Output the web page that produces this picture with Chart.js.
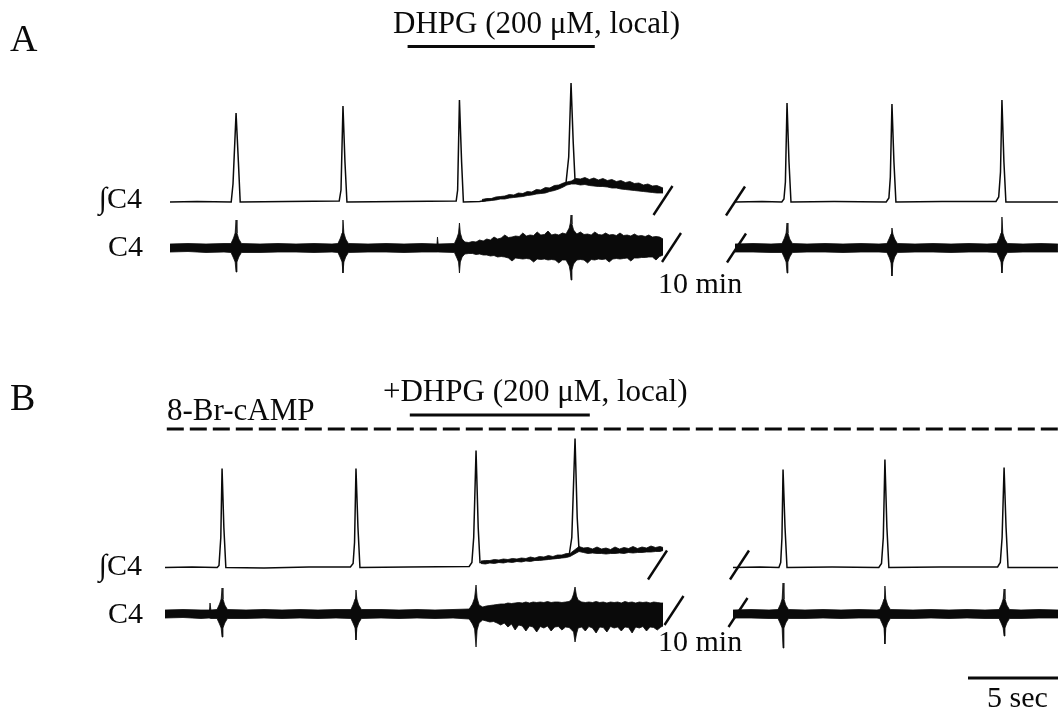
<!DOCTYPE html>
<html><head><meta charset="utf-8">
<script src="https://cdn.jsdelivr.net/npm/chart.js@4"></script>
<style>html,body{margin:0;padding:0;background:#fff}canvas{display:block}</style>
</head><body>
<canvas id="c" width="1058" height="711"></canvas>
<script>
// ---------------- DATA (time in s from start of each trace segment) ----------------
// Panel A: control, DHPG applied locally
// ∫C4 integrated trace: [t, amplitude a.u.]
const A_int_pre = [[0,0],[1.5,0.5],[3.4,0],[3.5,18],[3.67,89],[3.8,40],[3.9,0],[6.5,0.5],[9.4,1],[9.5,12],[9.61,96],[9.72,40],[9.83,0],[12.8,0.5],[15.9,1],[15.98,12],[16.08,102],[16.2,40],[16.3,0],[17.2,0.5],[18.33,4],[19.44,7],[20.56,11],[21.67,16],[22.0,19],[22.15,45],[22.28,119],[22.4,60],[22.5,22],[22.6,20],[23.89,18],[25.0,16],[26.11,14],[27.39,11]];
// ∫C4 noisy envelope during DHPG: [t, high, low]
const A_int_pre_noise = [[17.33,2.5,0.5],[17.6,3.5,1],[17.85,3.5,1.5],[18.1,5,2],[18.35,5.5,3],[18.6,6,3],[18.85,7.5,4],[19.1,7,4.5],[19.35,9,5],[19.6,8.5,5.5],[19.85,10.5,6.5],[20.1,10,7],[20.35,12.5,8],[20.6,12,8.5],[20.85,14.5,9],[21.1,14,10.5],[21.35,16.5,11.5],[21.6,17,13],[21.85,19,15],[22.05,20,17],[22.3,21,18],[22.55,23.5,18],[22.8,23,17],[23.05,24.5,17.5],[23.3,22.5,16.5],[23.55,24,16],[23.8,22,15.5],[24.05,23.5,15.5],[24.3,21.5,15],[24.55,22.5,14],[24.8,20.5,14],[25.05,21.5,13],[25.3,19.5,12.5],[25.55,20.5,12],[25.8,18.5,11.5],[26.05,19,11],[26.3,17,10.5],[26.55,18,10],[26.8,16,9.5],[27.05,16.5,9],[27.39,14,9]];
// C4 raw nerve activity envelope: [t, up, down]
const A_raw_pre = [[0,4,4],[1.0,4.5,3.5],[2.0,4,4.5],[3.0,4.5,4],[3.39,4.5,4.5],[3.53,10,10],[3.62,15,14],[3.67,28,24],[3.72,15,14],[3.82,9,9],[3.97,4.5,4.5],[5.0,4,4.5],[6.0,4.5,4],[7.0,4,4],[8.0,4.5,4.5],[9.0,4,4],[9.33,4.5,4.5],[9.47,10,10],[9.56,15,14],[9.61,28,25],[9.66,15,14],[9.76,9,9],[9.91,4.5,4.5],[11.0,4,4],[12.0,4.5,4],[13.0,4,4.5],[14.0,4.5,4],[14.83,4,4],[14.86,11,4],[14.9,4,4],[15.8,4.5,4.5],[15.94,10,10],[16.03,15,14],[16.08,25,25],[16.13,15,14],[16.23,9,9],[16.38,6,6],[16.6,5.5,5.5],[16.8,6.5,5.5],[17.0,6,6.5],[17.2,8,6],[17.4,7,7],[17.6,9,7],[17.8,8,8],[18.0,11,7.5],[18.2,9,9],[18.4,10,8.5],[18.6,13,9],[18.8,10.5,10],[19.0,11,13],[19.2,12,10],[19.4,11.5,10.5],[19.6,15,11],[19.8,12,10.5],[20.0,13,11],[20.2,12.5,14],[20.4,16,11],[20.6,13,11.5],[20.8,13.5,11],[21.0,17,12],[21.2,13,11.5],[21.4,14,12],[21.6,13,15],[21.8,15,12],[22.0,14,12],[22.18,20,18],[22.24,25,24],[22.28,33,32],[22.33,24,22],[22.42,18,16],[22.6,14,12],[22.8,16,11.5],[23.0,13.5,12],[23.2,14,15],[23.4,13,11.5],[23.6,16,12],[23.8,13.5,11],[24.0,13,11.5],[24.2,15,11],[24.4,13,14],[24.6,13.5,11],[24.8,12.5,10.5],[25.0,15,11],[25.2,12.5,10.5],[25.4,13,10],[25.6,12,13],[25.8,14,10],[26.0,12,10],[26.2,12.5,9.5],[26.4,11.5,9.5],[26.6,13,9],[26.8,11,9],[27.0,11.5,12],[27.2,11,8.5],[27.39,9,7]];
// 10 min later
const A_int_post = [[0,0],[1.5,0.5],[2.6,0],[2.72,3],[2.8,20],[2.89,99],[3.0,40],[3.11,0],[5.5,0.5],[8.4,0],[8.55,4],[8.63,25],[8.72,98],[8.83,40],[8.94,0],[11.5,0.5],[14.5,0.5],[14.65,5],[14.75,30],[14.83,102],[14.94,40],[15.05,0],[17.94,0]];
const A_raw_post = [[0,4,4],[1.0,4.5,4],[2.0,4,4.5],[2.61,4.5,4.5],[2.75,10,10],[2.84,15,14],[2.89,25,25],[2.94,15,14],[3.04,9,9],[3.19,4.5,4.5],[4.0,4,4],[5.0,4.5,4],[6.0,4,4.5],[7.0,4.5,4],[8.0,4,4],[8.44,4.5,4.5],[8.58,10,10],[8.67,14,15],[8.72,20,28],[8.77,14,15],[8.87,9,9],[9.02,4.5,4.5],[10,4,4],[11,4.5,4],[12,4,4.5],[13,4.5,4],[14,4,4],[14.55,4.5,4.5],[14.69,10,10],[14.78,15,14],[14.83,31,25],[14.88,15,14],[14.98,9,9],[15.13,4.5,4.5],[16,4,4],[17,4.5,4],[17.94,4,4]];

// Panel B: 8-Br-cAMP, then +DHPG
const B_int_pre = [[0,0],[1.5,0.5],[2.9,0],[3.0,2],[3.1,30],[3.17,99],[3.27,40],[3.38,0],[5.5,-0.5],[8.0,0.5],[10.3,0.5],[10.45,4],[10.53,25],[10.61,99],[10.72,40],[10.83,0],[13.5,0.5],[16.9,1],[17.05,5],[17.15,30],[17.28,117],[17.4,40],[17.5,5],[17.67,5],[18.61,6],[20.28,7.5],[21.94,10],[22.45,12],[22.6,30],[22.78,129],[22.9,50],[23.0,18],[24.17,16],[25.83,16],[27.67,18]];
const B_int_pre_noise = [[17.55,6.5,4],[17.8,7,3.5],[18.05,7,4.5],[18.3,8,4],[18.55,7.5,5],[18.8,8.5,4.5],[19.05,8,5.5],[19.3,9,5],[19.55,8.5,6],[19.8,9.5,5.5],[20.05,9,6.5],[20.3,10.5,6],[20.55,9.5,7],[20.8,11,7],[21.05,10.5,7.5],[21.3,12,8],[21.55,11,8.5],[21.8,12.5,9],[22.05,12.5,9.5],[22.3,14,10],[22.5,14,11],[23.0,21,16],[23.25,19.5,15],[23.5,20,14],[23.75,18.5,14.5],[24.0,20.5,14],[24.25,18.5,14],[24.5,19.5,13.5],[24.75,18,14],[25.0,20.5,14],[25.25,18.5,14.5],[25.5,20,14],[25.75,19,15],[26.0,21,14.5],[26.25,19,15],[26.5,20.5,15],[26.75,19.5,15.5],[27.0,21.5,15.5],[27.25,20,16],[27.5,21,16],[27.67,20,17]];
const B_raw_pre = [[0,4,4],[1,4.5,3.5],[2,4,4.5],[2.45,4,4],[2.5,11,4],[2.55,4,4.5],[2.89,4.5,4.5],[3.03,10,10],[3.12,15,14],[3.17,26,23],[3.22,15,14],[3.32,9,9],[3.47,4.5,4.5],[4.5,4,4.5],[5.5,4.5,4],[6.5,4,4.5],[7.5,4.5,4],[8.5,4,4.5],[9.5,4.5,4],[10.33,4.5,4.5],[10.47,10,10],[10.56,15,14],[10.61,24,26],[10.66,15,14],[10.76,9,9],[10.91,4.5,4.5],[12,4.5,4],[13,4,4.5],[14,4.5,4],[15,4,4.5],[16,4.5,4],[16.9,5,5],[17.08,10,10],[17.2,16,15],[17.28,29,33],[17.34,16,16],[17.45,9,9],[17.65,7,6],[17.85,8,7],[18.05,8.5,8],[18.25,9,7.5],[18.45,9.5,9],[18.65,10,11],[18.85,10,9],[19.05,11,13],[19.25,10.5,10],[19.45,11,16],[19.65,11.5,11],[19.85,11,12],[20.05,12,17],[20.25,11,12],[20.45,12,13],[20.65,11.5,18],[20.85,12,12.5],[21.05,11.5,14],[21.25,12.5,12],[21.45,11.5,17],[21.65,12,13],[21.85,12,12.5],[22.05,11.5,16],[22.25,12,13],[22.45,12.5,13.5],[22.6,15,16],[22.7,20,18],[22.78,27,28],[22.86,18,20],[22.95,14,14],[23.15,12,13],[23.35,11.5,17],[23.55,12,12.5],[23.75,11.5,14],[23.95,12.5,19],[24.15,11.5,13],[24.35,12,13.5],[24.55,11,18],[24.75,12,12.5],[24.95,11.5,14],[25.15,12,13],[25.35,11,17],[25.55,12.5,13],[25.75,11.5,13.5],[25.95,12,19],[26.15,11,13],[26.35,12,14],[26.55,11.5,12.5],[26.75,12,17],[26.95,11,13],[27.15,12,13.5],[27.35,11.5,16],[27.55,11,13],[27.67,11,12]];
const B_int_post = [[0,0],[1.5,0.5],[2.55,0],[2.65,5],[2.72,30],[2.78,98],[2.89,40],[3.0,0],[5.5,0.5],[8.1,0],[8.25,4],[8.35,30],[8.44,108],[8.55,40],[8.66,0],[11.5,0.5],[14.7,0.5],[14.85,5],[14.95,30],[15.06,100],[15.17,40],[15.28,0],[18.06,0]];
const B_raw_post = [[0,4,4],[1,4.5,4],[2,4,4.5],[2.5,4.5,4.5],[2.64,10,10],[2.73,15,14],[2.78,31,34],[2.83,15,14],[2.93,9,9],[3.08,4.5,4.5],[4,4,4.5],[5,4.5,4],[6,4,4.5],[7,4.5,4],[8,4,4],[8.16,4.5,4.5],[8.3,10,10],[8.39,15,14],[8.44,28,30],[8.49,15,14],[8.59,9,9],[8.74,4.5,4.5],[10,4,4.5],[11,4.5,4],[12,4,4.5],[13,4.5,4],[14,4,4.5],[14.78,4.5,4.5],[14.92,10,10],[15.01,15,14],[15.06,25,22],[15.11,15,14],[15.21,9,9],[15.36,4.5,4.5],[16,4,4.5],[17,4.5,4],[18.06,4,4]];

// Drug application periods (s, in the first segment of each panel)
const dhpgA = [13.2, 23.6];
const dhpgB = [13.6, 23.6];
const campB = [0.1, 18.06];   // from start of B (segment 1) to end of B (segment 2)
const scaleBarSec = 5;
const labels = { A:'A', B:'B', dhpg:'DHPG (200 μM, local)', dhpgB:'+DHPG (200 μM, local)', camp:'8-Br-cAMP', integ:'∫C4', raw:'C4', gap:'10 min', scale:'5 sec' };

// ---------------- LAYOUT ----------------
const W = 1058, H = 711, PXS = 18; // 18 px per second
const L = {
  A: { intBase:202, rawBase:248, pre:170, post:735, barY:46.5 },
  B: { intBase:567.5, rawBase:614, pre:165, post:733, barY:415, dashY:429 },
  scaleY: 678
};
const sx = px => px / PXS;

const BLACK = '#0a0a0a';
const datasets = [];
function line(pts, segPx, base, width) {
  datasets.push({ data: pts.map(([t,a]) => ({x: sx(segPx) + t, y: base - a})), borderColor: BLACK, borderWidth: width || 1.5, fill: false, pointRadius: 0, tension: 0, clip: false });
}
function band(pts, segPx, base, rawStyle) {
  const up = pts.map(([t,h,l]) => ({x: sx(segPx) + t, y: base - h}));
  const lo = pts.map(([t,h,l]) => ({x: sx(segPx) + t, y: rawStyle ? base + l : base - l}));
  datasets.push({ data: up, borderColor: BLACK, borderWidth: 0.8, fill: false, pointRadius: 0, tension: 0, clip: false });
  datasets.push({ data: lo, borderColor: BLACK, borderWidth: 0.8, backgroundColor: BLACK, fill: '-1', pointRadius: 0, tension: 0, clip: false });
}
function seg(x0, y0, x1, y1, width, dash) {
  datasets.push({ data: [{x:x0,y:y0},{x:x1,y:y1}], borderColor: BLACK, borderWidth: width, borderDash: dash || [], fill: false, pointRadius: 0, tension: 0, clip: false, borderCapStyle: 'butt' });
}

// traces
line(A_int_pre, L.A.pre, L.A.intBase);
band(A_int_pre_noise, L.A.pre, L.A.intBase, false);
band(A_raw_pre, L.A.pre, L.A.rawBase, true);
line(A_int_post, L.A.post, L.A.intBase);
band(A_raw_post, L.A.post, L.A.rawBase, true);
line(B_int_pre, L.B.pre, L.B.intBase);
band(B_int_pre_noise, L.B.pre, L.B.intBase, false);
band(B_raw_pre, L.B.pre, L.B.rawBase, true);
line(B_int_post, L.B.post, L.B.intBase);
band(B_raw_post, L.B.post, L.B.rawBase, true);

// drug bars
seg(sx(L.A.pre) + dhpgA[0], L.A.barY, sx(L.A.pre) + dhpgA[1], L.A.barY, 3);
seg(sx(L.B.pre) + dhpgB[0], L.B.barY, sx(L.B.pre) + dhpgB[1], L.B.barY, 3);
seg(sx(L.B.pre) + campB[0], L.B.dashY, sx(L.B.post) + campB[1], L.B.dashY, 3, [17, 6]);
// scale bar
seg(sx(W) - scaleBarSec, L.scaleY, sx(W), L.scaleY, 3);

// break markers (centre px)
const breaks = [[663,200.5],[735.5,201],[671.5,247.5],[736.5,248],[657.5,565],[739.5,565],[674,610.5],[738,612.5]];
breaks.forEach(([cx, cy]) => seg(sx(cx - 9.5), cy + 14.5, sx(cx + 9.5), cy - 14.5, 2.4));

const texts = [
  { t: labels.A, x: 10, y: 51, s: 38 },
  { t: labels.dhpg, x: 393, y: 33, s: 31 },
  { t: labels.integ, x: 142, y: 208, s: 30, a: 'right' },
  { t: labels.raw, x: 143, y: 256, s: 30, a: 'right' },
  { t: labels.gap, x: 658, y: 293, s: 30 },
  { t: labels.B, x: 10, y: 410, s: 38 },
  { t: labels.camp, x: 167, y: 420, s: 31 },
  { t: labels.dhpgB, x: 383, y: 401, s: 31 },
  { t: labels.integ, x: 142, y: 575, s: 30, a: 'right' },
  { t: labels.raw, x: 143, y: 623, s: 30, a: 'right' },
  { t: labels.gap, x: 658, y: 651, s: 30 },
  { t: labels.scale, x: 987, y: 707, s: 30 }
];
const textPlugin = {
  id: 'texts',
  afterDraw(chart) {
    const c = chart.ctx;
    c.save();
    c.fillStyle = BLACK;
    c.textBaseline = 'alphabetic';
    texts.forEach(o => {
      c.font = o.s + 'px "Liberation Serif", "Times New Roman", serif';
      c.textAlign = o.a || 'left';
      c.fillText(o.t, o.x, o.y);
    });
    c.restore();
  }
};

new Chart(document.getElementById('c'), {
  type: 'line',
  data: { datasets },
  options: {
    responsive: false, animation: false, events: [],
    layout: { padding: 0 },
    scales: {
      x: { type: 'linear', min: 0, max: W / PXS, display: false },
      y: { type: 'linear', min: 0, max: H, reverse: true, display: false }
    },
    plugins: { legend: { display: false }, tooltip: { enabled: false } },
    elements: { point: { radius: 0 }, line: { tension: 0 } }
  },
  plugins: [textPlugin]
});
</script></body></html>
